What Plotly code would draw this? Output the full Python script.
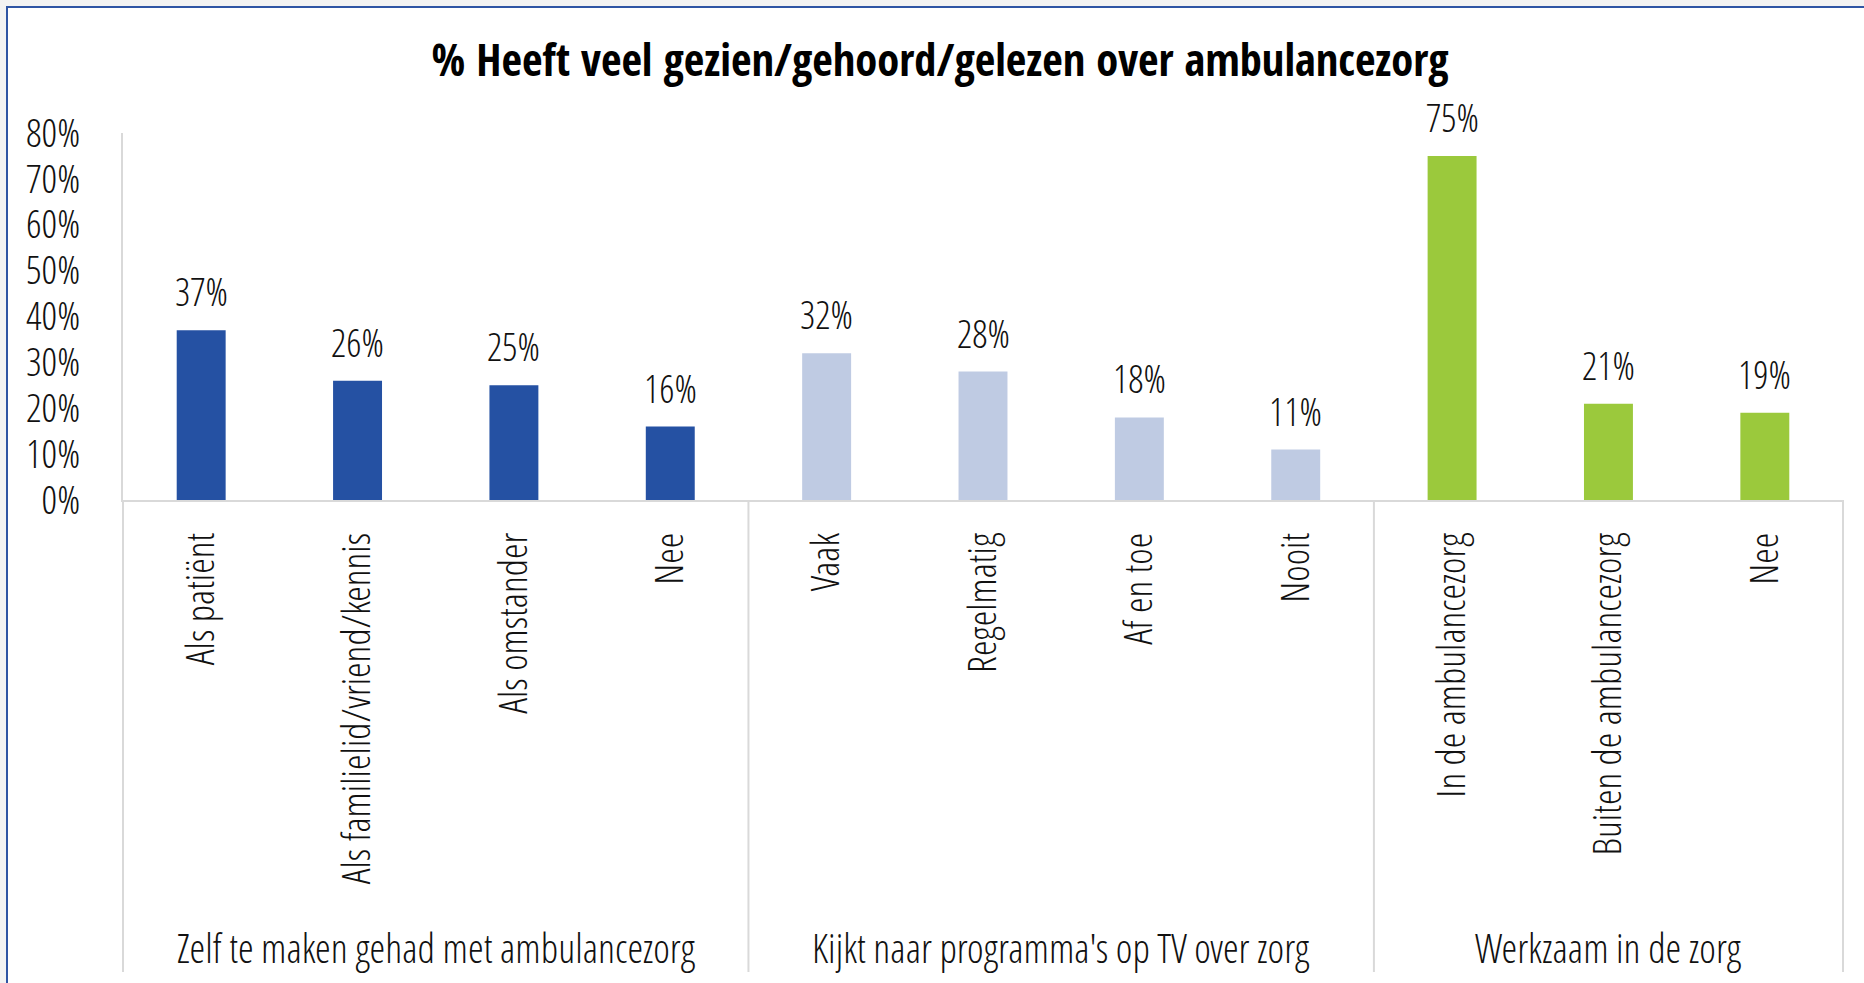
import plotly.graph_objects as go

# ---- data ----
groups = ["Zelf te maken gehad met ambulancezorg",
          "Kijkt naar programma's op TV over zorg",
          "Werkzaam in de zorg"]
group_categories = [
    ["Als patiënt", "Als familielid/vriend/kennis", "Als omstander", "Nee"],
    ["Vaak", "Regelmatig", "Af en toe", "Nooit"],
    ["In de ambulancezorg", "Buiten de ambulancezorg", "Nee"],
]
group_values = [
    [37, 26, 25, 16],
    [32, 28, 18, 11],
    [75, 21, 19],
]
group_colors = ["#2551A3", "#BFCBE3", "#9BC93C"]
y_ticks = [0, 10, 20, 30, 40, 50, 60, 70, 80]
title_text = "% Heeft veel gezien/gehoord/gelezen over ambulancezorg"

# ---- layout constants (pixels) ----
FIG_W, FIG_H = 1864, 983
M_L, M_R, M_T, M_B = 123, 21, 133, 483
PW = FIG_W - M_L - M_R
PH = FIG_H - M_T - M_B
FONT = "Open Sans Condensed Light, Roboto Condensed, sans-serif"
FONT_B = "Open Sans Condensed, Roboto Condensed, sans-serif"
TXT = "#111111"
LINE = "#D9D9D9"

def px_to_paper_x(px):
    return (px - M_L) / PW

def px_to_paper_y(py):
    return (FIG_H - M_B - py) / PH

categories, values, colors = [], [], []
for cats, vals, col in zip(group_categories, group_values, group_colors):
    for c, v in zip(cats, vals):
        categories.append(c)
        values.append(v)
        colors.append(col)
n = len(categories)
idx = list(range(n))

fig = go.Figure()
fig.add_trace(go.Bar(x=idx, y=values, marker=dict(color=colors, line=dict(width=0)),
                     hoverinfo="skip", showlegend=False))

annotations = []
for i, v in zip(idx, values):
    annotations.append(dict(x=i, y=v, xref="x", yref="y", text=f"{v}%", showarrow=False,
                            yanchor="bottom", xanchor="center", yshift=11,
                            font=dict(family=FONT, size=38, color=TXT, weight=300)))

shapes = [dict(type="rect", xref="paper", yref="paper", layer="below",
               x0=px_to_paper_x(7), x1=px_to_paper_x(1885),
               y0=px_to_paper_y(1005), y1=px_to_paper_y(7),
               fillcolor="white", line=dict(color="#2F55A4", width=2))]
start = 0
bounds = [0]
for g, cats in zip(groups, group_categories):
    end = start + len(cats)
    annotations.append(dict(x=(start + end - 1) / 2, xref="x", y=px_to_paper_y(947), yref="paper",
                            text=g, showarrow=False, yanchor="middle", xanchor="center",
                            font=dict(family=FONT, size=40, color=TXT, weight=300)))
    bounds.append(end)
    start = end
for b in bounds:
    shapes.append(dict(type="line", xref="paper", yref="paper",
                       x0=b / n, x1=b / n, y0=0, y1=px_to_paper_y(972),
                       line=dict(color=LINE, width=2)))

fig.update_layout(
    width=FIG_W, height=FIG_H, autosize=False,
    margin=dict(l=M_L, r=M_R, t=M_T, b=M_B, pad=0),
    paper_bgcolor="#F3F3F3", plot_bgcolor="rgba(0,0,0,0)",
    bargap=0.687,
    title=dict(text=f"<b>{title_text}</b>", x=940 / FIG_W, xanchor="center",
               xref="container", yref="container", y=1 - 60 / FIG_H, yanchor="middle",
               font=dict(family=FONT_B, size=44.5, color="#000000")),
    xaxis=dict(range=[-0.5, n - 0.5], tickvals=idx, ticktext=categories, tickangle=-90,
               showgrid=False, zeroline=False, showline=True, linecolor=LINE, linewidth=2,
               ticks="", ticklabelstandoff=15, automargin=False,
               tickfont=dict(family=FONT, size=39.5, color=TXT, weight=300)),
    yaxis=dict(range=[0, 80], tickvals=y_ticks, ticktext=[f"{t}%" for t in y_ticks],
               showgrid=False, zeroline=False, showline=True, linecolor=LINE, linewidth=2,
               ticks="", ticklabelstandoff=33, automargin=False,
               tickfont=dict(family=FONT, size=39, color=TXT, weight=300)),
    annotations=annotations, shapes=shapes,
)

fig.write_html("out.html", config={"displayModeBar": False},
               post_script="document.body.style.margin='0';document.body.style.background='#F3F3F3';")
